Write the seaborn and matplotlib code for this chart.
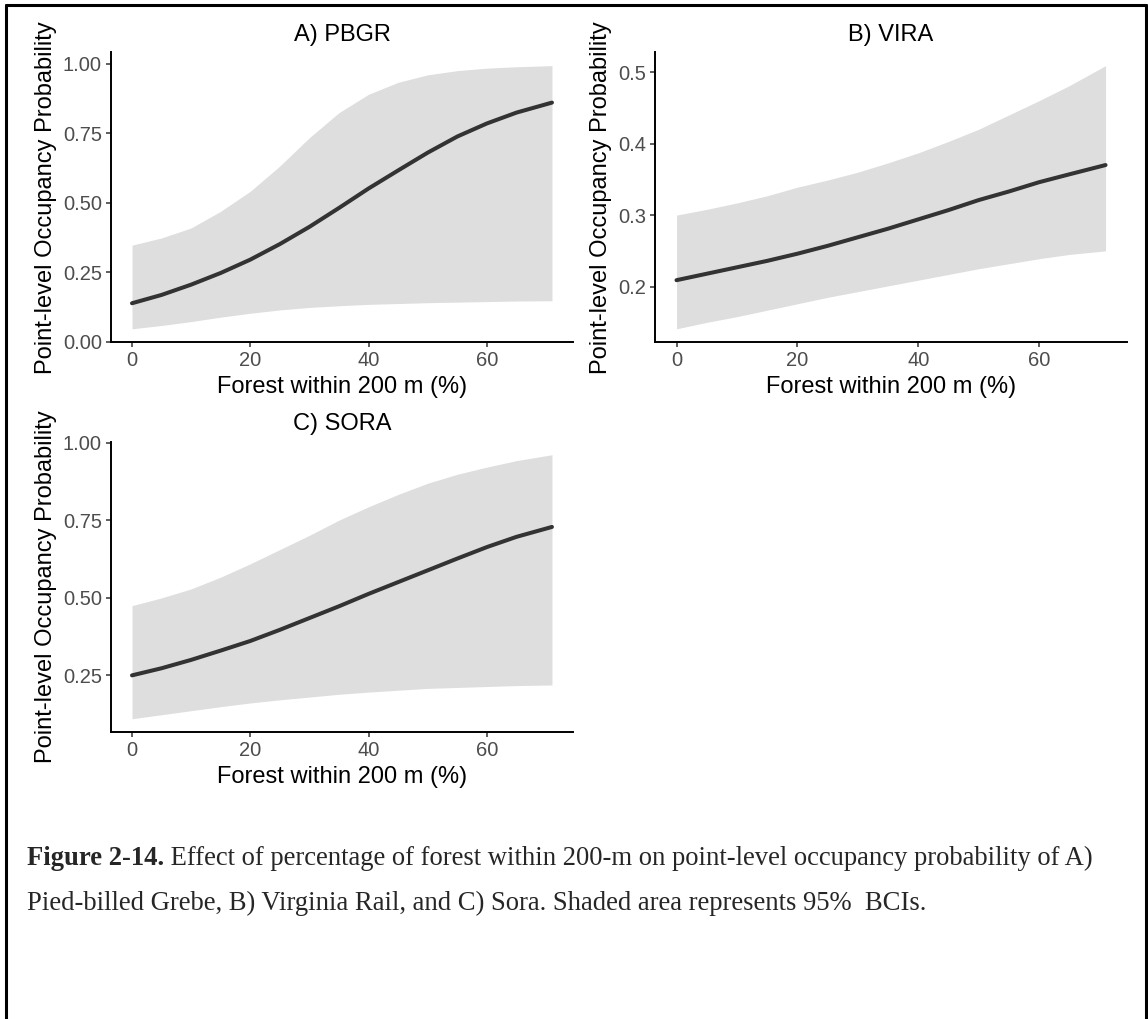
import numpy as np
import pandas as pd
import matplotlib
matplotlib.use("Agg")
import matplotlib.pyplot as plt
from matplotlib.lines import Line2D
import seaborn as sns

# ---- data ----
forest = [0, 5, 10, 15, 20, 25, 30, 35, 40, 45, 50, 55, 60, 65, 71]

pbgr_mean = [0.138, 0.168, 0.205, 0.247, 0.295, 0.351, 0.413, 0.481, 0.551,
             0.616, 0.680, 0.738, 0.785, 0.824, 0.860]
pbgr_low = [0.046, 0.058, 0.072, 0.088, 0.102, 0.114, 0.123, 0.129, 0.134,
            0.137, 0.140, 0.142, 0.144, 0.146, 0.147]
pbgr_high = [0.347, 0.373, 0.409, 0.469, 0.541, 0.632, 0.734, 0.824, 0.890,
             0.933, 0.960, 0.975, 0.984, 0.989, 0.993]

vira_mean = [0.209, 0.218, 0.227, 0.236, 0.246, 0.257, 0.269, 0.281, 0.294,
             0.307, 0.321, 0.333, 0.346, 0.357, 0.370]
vira_low = [0.141, 0.150, 0.158, 0.167, 0.176, 0.185, 0.193, 0.201, 0.209,
            0.217, 0.225, 0.232, 0.239, 0.245, 0.250]
vira_high = [0.300, 0.308, 0.317, 0.327, 0.339, 0.349, 0.360, 0.373, 0.387,
             0.403, 0.420, 0.440, 0.460, 0.481, 0.509]

sora_mean = [0.249, 0.272, 0.299, 0.329, 0.360, 0.396, 0.434, 0.472, 0.512,
             0.550, 0.588, 0.626, 0.663, 0.696, 0.728]
sora_low = [0.109, 0.122, 0.135, 0.148, 0.160, 0.170, 0.179, 0.188, 0.195,
            0.201, 0.207, 0.210, 0.213, 0.216, 0.218]
sora_high = [0.474, 0.499, 0.528, 0.566, 0.609, 0.655, 0.701, 0.750, 0.793,
             0.833, 0.869, 0.898, 0.921, 0.942, 0.961]

titles = ["A) PBGR", "B) VIRA", "C) SORA"]
x_ticks = [0, 20, 40, 60]
y_ticks_a = [0.00, 0.25, 0.50, 0.75, 1.00]
y_labels_a = ["0.00", "0.25", "0.50", "0.75", "1.00"]
y_ticks_b = [0.2, 0.3, 0.4, 0.5]
y_labels_b = ["0.2", "0.3", "0.4", "0.5"]
y_ticks_c = [0.25, 0.50, 0.75, 1.00]
y_labels_c = ["0.25", "0.50", "0.75", "1.00"]

xlabel = "Forest within 200 m (%)"
ylabel = "Point-level Occupancy Probability"

caption_bold = "Figure 2-14."
caption_line1 = " Effect of percentage of forest within 200-m on point-level occupancy probability of A)"
caption_line2 = "Pied-billed Grebe, B) Virginia Rail, and C) Sora. Shaded area represents 95%  BCIs."

# ---- build long table ----
frames = []
for name, m, lo, hi in [(titles[0], pbgr_mean, pbgr_low, pbgr_high),
                        (titles[1], vira_mean, vira_low, vira_high),
                        (titles[2], sora_mean, sora_low, sora_high)]:
    frames.append(pd.DataFrame({"species": name, "forest": forest,
                                "mean": m, "low": lo, "high": hi}))
df = pd.concat(frames, ignore_index=True)

sns.set_theme(style="ticks")
plt.rcParams["font.family"] = ["Liberation Sans", "DejaVu Sans"]

W, H = 1148, 1019
fig = plt.figure(figsize=(W / 100, H / 100), dpi=100)
fig.patch.set_facecolor("white")

positions = [
    [0.0967, 0.6644, 0.4024, 0.2841],
    [0.5706, 0.6644, 0.4111, 0.2841],
    [0.0967, 0.2817, 0.4024, 0.2850],
]
yticks = [(y_ticks_a, y_labels_a), (y_ticks_b, y_labels_b), (y_ticks_c, y_labels_c)]

for i, sp in enumerate(titles):
    ax = fig.add_axes(positions[i])
    sub = df[df["species"] == sp]
    ax.fill_between(sub["forest"], sub["low"], sub["high"], color="#dedede",
                    linewidth=0, zorder=1)
    sns.lineplot(data=sub, x="forest", y="mean", ax=ax, color="#333333",
                 linewidth=2.9, zorder=2, estimator=None)
    ax.margins(x=0.05, y=0.05)
    ax.set_xticks(x_ticks)
    ax.set_xticklabels([str(t) for t in x_ticks])
    ax.set_yticks(yticks[i][0])
    ax.set_yticklabels(yticks[i][1])
    ax.set_xlabel(xlabel, fontsize=17, color="black", labelpad=4)
    ax.set_ylabel(ylabel, fontsize=17, color="black", labelpad=4)
    ax.set_title(sp, fontsize=17, color="black", pad=8)
    for s in ["top", "right"]:
        ax.spines[s].set_visible(False)
    for s in ["left", "bottom"]:
        ax.spines[s].set_linewidth(1.4)
        ax.spines[s].set_color("black")
    ax.tick_params(axis="both", labelsize=14.5, labelcolor="#4d4d4d",
                   color="#333333", length=3.5, width=1.1, pad=3)
    ax.set_facecolor("white")

# caption
cap_fs = 19.2
serif = ["Liberation Serif", "DejaVu Serif"]
t1 = fig.text(27 / W, 1 - 865 / H, caption_bold, fontsize=cap_fs,
              family=serif, fontweight="bold", ha="left", va="baseline")
fig.canvas.draw()
bb = t1.get_window_extent(renderer=fig.canvas.get_renderer())
fig.text(bb.x1 / W, 1 - 865 / H, caption_line1, fontsize=cap_fs,
         family=serif, ha="left", va="baseline")
fig.text(27 / W, 1 - 910 / H, caption_line2, fontsize=cap_fs,
         family=serif, ha="left", va="baseline")

# page frame (left, top, right)
lw = 2.2
fig.add_artist(Line2D([6 / W, 6 / W], [0, 1 - 5 / H], transform=fig.transFigure,
                      color="black", linewidth=lw))
fig.add_artist(Line2D([6 / W, 1 - 2 / W], [1 - 5 / H, 1 - 5 / H],
                      transform=fig.transFigure, color="black", linewidth=lw))
fig.add_artist(Line2D([1 - 2 / W, 1 - 2 / W], [0, 1 - 5 / H],
                      transform=fig.transFigure, color="black", linewidth=lw))

fig.savefig("out.png", dpi=100, facecolor="white")
